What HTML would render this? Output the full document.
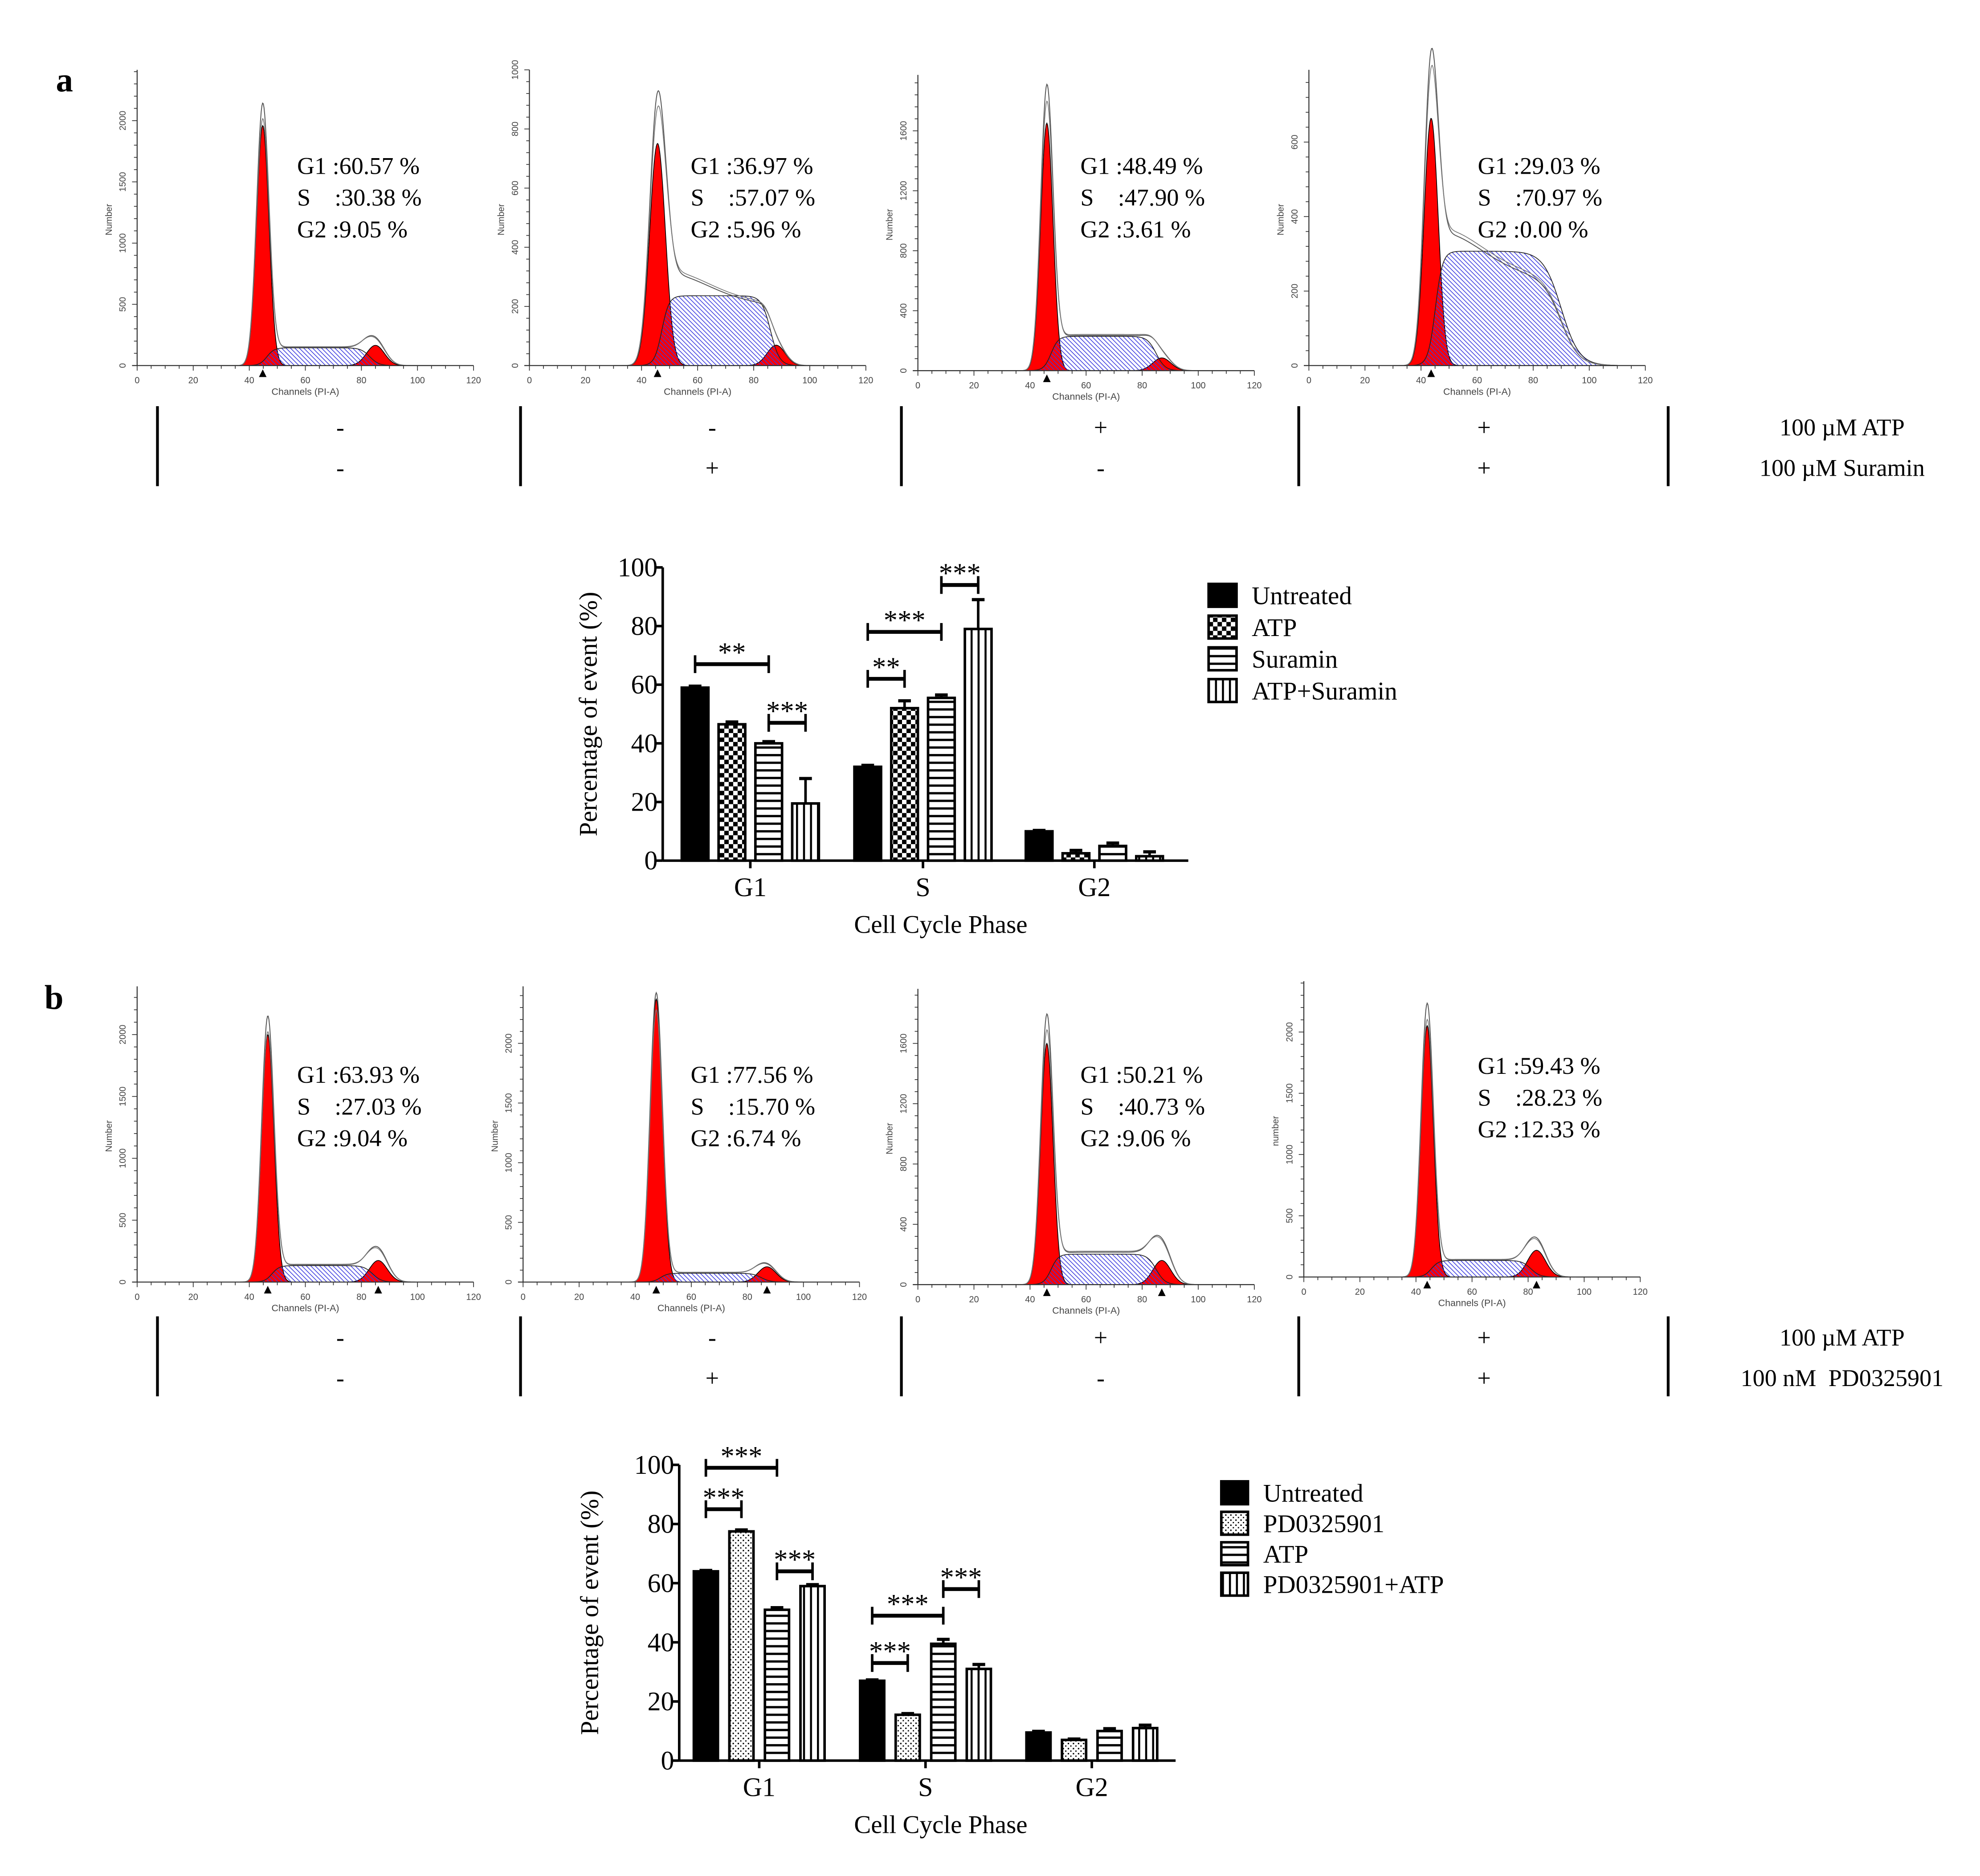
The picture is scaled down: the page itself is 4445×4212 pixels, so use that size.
<!DOCTYPE html>
<html><head><meta charset="utf-8">
<style>
html,body{margin:0;padding:0;background:#fff;}
svg{display:block;}
text{font-family:"Liberation Serif",serif;fill:#000;white-space:pre;}
.sm{font-family:"Liberation Sans",sans-serif;fill:#444;}
</style></head>
<body>
<svg id="fig" xmlns="http://www.w3.org/2000/svg" width="4445" height="4212" viewBox="0 0 1559.6 1477.9">
<defs>
<pattern id="hatch" patternUnits="userSpaceOnUse" width="3.5" height="3.5"><line x1="0" y1="0" x2="3.5" y2="3.5" stroke="#3a3adf" stroke-width="0.55"/><line x1="-1" y1="2.5" x2="1" y2="4.5" stroke="#3a3adf" stroke-width="0.55"/><line x1="2.5" y1="-1" x2="4.5" y2="1" stroke="#3a3adf" stroke-width="0.55"/></pattern>
<pattern id="checker" patternUnits="userSpaceOnUse" width="7" height="7"><rect width="7" height="7" fill="#fff"/><rect width="3.5" height="3.5" fill="#000"/><rect x="3.5" y="3.5" width="3.5" height="3.5" fill="#000"/></pattern>
<pattern id="hstripe" patternUnits="userSpaceOnUse" width="6" height="6"><rect width="6" height="6" fill="#fff"/><rect y="0" width="6" height="1.8" fill="#000"/></pattern>
<pattern id="vstripe" patternUnits="userSpaceOnUse" width="5.5" height="6"><rect width="5.5" height="6" fill="#fff"/><rect x="0" width="1.6" height="6" fill="#000"/></pattern>
<pattern id="dots" patternUnits="userSpaceOnUse" width="4" height="4"><rect width="4" height="4" fill="#fff"/><rect x="1" y="1" width="1.1" height="1.1" fill="#000"/><rect x="3" y="3" width="1.1" height="1.1" fill="#000"/></pattern>
</defs>
<text x="44" y="72" font-size="27" font-weight="bold">a</text>
<text x="35" y="795" font-size="27" font-weight="bold">b</text>
</svg>
<script>
const NS='http://www.w3.org/2000/svg';
const svg=document.getElementById('fig');
function mk(tag,attrs,parent){const e=document.createElementNS(NS,tag);for(const k in attrs)e.setAttribute(k,attrs[k]);(parent||svg).appendChild(e);return e;}
function tx(str,x,y,size,parent,anchor,cls){const t=mk('text',{x:x,y:y,'font-size':size,'text-anchor':anchor||'start'},parent);if(cls)t.setAttribute('class',cls);t.textContent=str;return t;}

/* ---------- histogram data (counts) ---------- */
const histG1Center=[44.8,45.7,46,43.6,46.6,47.5,46,44];
const histG1Peak=[1960,751,1651,664,2000,2371,1600,2052];
const histG1Env=[2125,884,1880,800,2134,2414,1768,2218];
const histSLevel=[145,236,229,307,133,74,202,135];
const histSEnv=[150,270,235,310,140,80,215,140];
const histG2Center=[85,88,87,90,86,87,87,83];
const histG2Peak=[165,69,85,0,174,128,160,218];
const histG2Env=[200,60,90,0,250,140,260,290];
const histYMax=[2415,1000,1973,794,2390,2478,1962,2415];
const histTickStep=[500,200,400,200,500,500,400,500];
const histG1Text=['60.57','36.97','48.49','29.03','63.93','77.56','50.21','59.43'];
const histSText=['30.38','57.07','47.90','70.97','27.03','15.70','40.73','28.23'];
const histG2Text=['9.05','5.96','3.61','0.00','9.04','6.74','9.06','12.33'];
/* layout */
const histOx=[108,417,723,1031,108,412,723,1027];
const histBase=[288,288,292,288,1010,1010,1012,1006];
const histTxtX=[234,544,851,1164,234,544,851,1164];
const histTxtY=[137,137,137,137,853,853,853,846];

function drawHist(i){
  const g=mk('g',{});
  
  
  const ox=histOx[i],base=histBase[i],W=265,H=233,top=histYMax[i];
  const sx=c=>ox+c*W/120, sy=v=>base-v/top*H;
  const c1=histG1Center[i], c2=histG2Center[i];
  const sd1=(i==1?2.8:(i==3?2.5:2.2));
  const sEnd=(i==3?90:c2-2), sW=(i==3?3.2:1.6);
  const sig=z=>1/(1+Math.exp(-z));
  const G1=x=>histG1Peak[i]*Math.exp(-((x-c1)**2)/(2*sd1*sd1));
  const G1e=x=>histG1Env[i]*Math.exp(-((x-c1)**2)/(2*sd1*sd1));
  const S=x=>histSLevel[i]*sig((x-c1-1.5)/1.3)*sig((sEnd-x)/sW);
  const Se=x=>histSEnv[i]*sig((x-c1-2.5)/1.3)*sig((sEnd-x)/sW)*(i==1||i==3?(1.25-0.5*sig((x-c1-18)/8)):1);
  const G2=x=>histG2Peak[i]*Math.exp(-((x-c2)**2)/(2*3.2*3.2));
  const G2e=x=>histG2Env[i]*Math.exp(-((x-c2)**2)/(2*3.4*3.4));
  function poly(f){let d='M'+sx(30)+','+base;for(let x=30;x<=110;x+=0.25)d+=' L'+sx(x).toFixed(2)+','+sy(f(x)).toFixed(2);return d+' L'+sx(110)+','+base+'Z';}
  function line(f){let d='';for(let x=30;x<=110;x+=0.25)d+=(d?' L':'M')+sx(x).toFixed(2)+','+sy(f(x)).toFixed(2);return d;}
  mk('path',{d:poly(S),fill:'#fff',stroke:'none'},g);
  const r1=mk('path',{d:poly(G1),fill:'#f00',stroke:'#000','stroke-width':0.6},g);
  
  
  const r2=mk('path',{d:poly(G2),fill:'#f00',stroke:'#000','stroke-width':0.6},g);
  
  
  const sh=mk('path',{d:poly(S),fill:'url(#hatch)',stroke:'#222','stroke-width':0.6},g);
  
  
  mk('path',{d:line(x=>G1e(x)+Se(x)+G2e(x)),fill:'none',stroke:'#555','stroke-width':0.7},g);
  mk('path',{d:line(x=>G1e(x)*0.94+Se(x)*1.03+G2e(x)*0.95),fill:'none',stroke:'#777','stroke-width':0.6},g);
  mk('line',{x1:ox,y1:base-H,x2:ox,y2:base,stroke:'#333','stroke-width':0.8},g);
  mk('line',{x1:ox-4,y1:base,x2:ox+W,y2:base,stroke:'#333','stroke-width':0.8},g);
  for(let c=0;c<=120;c+=5){const maj=c%20==0;mk('line',{x1:sx(c),y1:base,x2:sx(c),y2:base+(maj?4:2.5),stroke:'#333','stroke-width':0.6},g);if(maj)tx(String(c),sx(c),base+14,7,g,'middle','sm');}
  tx('Channels (PI-A)',ox+W/2,base+23,7.5,g,'middle','sm');
  const st=histTickStep[i];
  for(let v=0;v<=top;v+=st/5){const maj=Math.abs(v/st-Math.round(v/st))<1e-6;mk('line',{x1:ox-(maj?4:2.5),y1:sy(v),x2:ox,y2:sy(v),stroke:'#333','stroke-width':0.6},g);
    if(maj){const t=tx(String(Math.round(v)),0,0,7,g,'middle','sm');t.setAttribute('transform','translate('+(ox-9)+','+sy(v)+') rotate(-90)');}}
  const yl=tx(i==7?'number':'Number',0,0,7,g,'middle','sm');yl.setAttribute('transform','translate('+(ox-20)+','+(base-115)+') rotate(-90)');
  mk('path',{d:'M'+(sx(c1)-3)+','+(base+9)+' L'+sx(c1)+','+(base+3)+' L'+(sx(c1)+3)+','+(base+9)+'Z',fill:'#000'},g);
  if(i>=4) mk('path',{d:'M'+(sx(c2)-3)+','+(base+9)+' L'+sx(c2)+','+(base+3)+' L'+(sx(c2)+3)+','+(base+9)+'Z',fill:'#000'},g);
  const tg=mk('g',{},g);
  
  
  tx('G1 :'+histG1Text[i]+' %',histTxtX[i],histTxtY[i],19,tg);
  tx('S    :'+histSText[i]+' %',histTxtX[i],histTxtY[i]+25,19,tg);
  tx('G2 :'+histG2Text[i]+' %',histTxtX[i],histTxtY[i]+50,19,tg);
}
for(let i=0;i<8;i++)drawHist(i);

/* treatment tables */
const treatRow1A=['-','-','+','+'], treatRow2A=['-','+','-','+'];
function drawTable(y0,r1,r2,l1,l2,nm){
  const g=mk('g',{});
  
  
  [124,410,710,1023,1314].forEach(x=>mk('line',{x1:x,y1:y0,x2:x,y2:y0+63,stroke:'#000','stroke-width':2.2},g));
  [268,561,867,1169].forEach((x,k)=>{tx(r1[k],x,y0+23,19,g,'middle');tx(r2[k],x,y0+55,19,g,'middle');});
  tx(l1,1451,y0+23,19,g,'middle');
  tx(l2,1451,y0+55,19,g,'middle');
}
drawTable(320,treatRow1A,treatRow2A,'100 µM ATP','100 µM Suramin','treatment-table-a');
drawTable(1037,treatRow1A,treatRow2A,'100 µM ATP','100 nM  PD0325901','treatment-table-b');

/* ---------- bar chart data ---------- */
const barCategories=['G1','S','G2'];
const barAUntreated=[59,32,10], barAATP=[46.5,52,2.5], barASuramin=[40,55.5,5], barACombo=[19.5,79,1.5];
const barAErr=[[0.5,0.5,0.3],[0.8,2.5,1],[0.6,1,1],[8.5,10,1.5]];
const barBUntreated=[64,27,9.5], barBPD=[77.5,15.5,7], barBATP=[51,39.5,10], barBCombo=[59,31,11];
const barBErr=[[0.3,0.3,0.4],[0.5,0.4,0.3],[0.7,1.5,0.8],[0.5,1.5,1]];
const yTicks=[0,20,40,60,80,100];
const legendA=['Untreated','ATP','Suramin','ATP+Suramin'];
const legendB=['Untreated','PD0325901','ATP','PD0325901+ATP'];
const sigA=[[0,0,2,67,'**'],[0,2,3,47,'***'],[1,0,1,62,'**'],[1,0,2,78,'***'],[1,2,3,94,'***']];
const sigB=[[0,0,1,85,'***'],[0,0,2,99,'***'],[0,2,3,64,'***'],[1,0,1,33,'***'],[1,0,2,49,'***'],[1,2,3,58,'***']];

function drawBars(cfg){
  const g=mk('g',{});
  
  
  const y=v=>cfg.y0-v*cfg.k;
  const bx=(c,s)=>cfg.cx[c]+(s-1.5)*cfg.pitch;
  for(let s=0;s<4;s++)for(let c=0;c<3;c++){
    const v=cfg.series[s][c],e=cfg.err[s][c],x=bx(c,s);
    const r=mk('rect',{x:x-cfg.bw/2,y:y(v),width:cfg.bw,height:cfg.y0-y(v),fill:cfg.fills[s],stroke:'#000','stroke-width':2},g);
    
    
    mk('line',{x1:x,y1:y(v),x2:x,y2:y(v+e),stroke:'#000','stroke-width':2},g);
    mk('line',{x1:x-5,y1:y(v+e),x2:x+5,y2:y(v+e),stroke:'#000','stroke-width':2.5},g);
  }
  const ax=mk('g',{},g);
  
  
  mk('line',{x1:cfg.x0,y1:y(100),x2:cfg.x0,y2:cfg.y0,stroke:'#000','stroke-width':2},ax);
  yTicks.forEach(v=>{mk('line',{x1:cfg.x0-5,y1:y(v),x2:cfg.x0,y2:y(v),stroke:'#000','stroke-width':2},ax);tx(String(v),cfg.x0-4,y(v)+7,21,ax,'end');});
  const xa=mk('g',{},g);
  
  
  mk('line',{x1:cfg.x0,y1:cfg.y0,x2:cfg.x1,y2:cfg.y0,stroke:'#000','stroke-width':2},xa);
  barCategories.forEach((c,k)=>{mk('line',{x1:cfg.cx[k],y1:cfg.y0,x2:cfg.cx[k],y2:cfg.y0+6,stroke:'#000','stroke-width':2},xa);tx(c,cfg.cx[k],cfg.y0+28,21,xa,'middle');});
  const xt=tx('Cell Cycle Phase',741,cfg.y0+57,20,g,'middle');
  
  
  const yt=tx('Percentage of event (%)',0,0,20,g,'middle');
  yt.setAttribute('transform','translate('+cfg.ytx+','+y(50)+') rotate(-90)');
  
  
  cfg.sig.forEach(s=>{
    const xa1=bx(s[0],s[1]),xb=bx(s[0],s[2]),yy=y(s[3]);
    const sg=mk('g',{},g);
    
    
    mk('line',{x1:xa1,y1:yy,x2:xb,y2:yy,stroke:'#000','stroke-width':3},sg);
    mk('line',{x1:xa1,y1:yy-7,x2:xa1,y2:yy+7,stroke:'#000','stroke-width':2},sg);
    mk('line',{x1:xb,y1:yy-7,x2:xb,y2:yy+7,stroke:'#000','stroke-width':2},sg);
    tx(s[4],(xa1+xb)/2,yy-2,22,sg,'middle');
  });
  const lg=mk('g',{},g);
  
  
  cfg.legend.forEach((l,k)=>{
    const e=mk('g',{},lg);
    
    
    mk('rect',{x:cfg.lx,y:cfg.ly+k*cfg.lstep,width:cfg.lw,height:cfg.lh,fill:cfg.fills[k],stroke:'#000','stroke-width':2},e);
    tx(l,cfg.lx+cfg.lw+12,cfg.ly+k*cfg.lstep+cfg.lh-2,20,e);
  });
}
drawBars({name:'bar-chart-a',x0:522,x1:936,y0:678,k:2.31,cx:[591,727,862],pitch:29,bw:21,
  series:[barAUntreated,barAATP,barASuramin,barACombo],err:barAErr,
  fills:['#000','url(#checker)','url(#hstripe)','url(#vstripe)'],legend:legendA,sig:sigA,ytx:470,
  lx:952,ly:460,lstep:25,lw:22,lh:18});
drawBars({name:'bar-chart-b',x0:535,x1:926,y0:1387,k:2.33,cx:[598,729,860],pitch:28,bw:19,
  series:[barBUntreated,barBPD,barBATP,barBCombo],err:barBErr,
  fills:['#000','url(#dots)','url(#hstripe)','url(#vstripe)'],legend:legendB,sig:sigB,ytx:471,
  lx:962,ly:1167,lstep:24,lw:21,lh:18});
</script>
</body></html>
